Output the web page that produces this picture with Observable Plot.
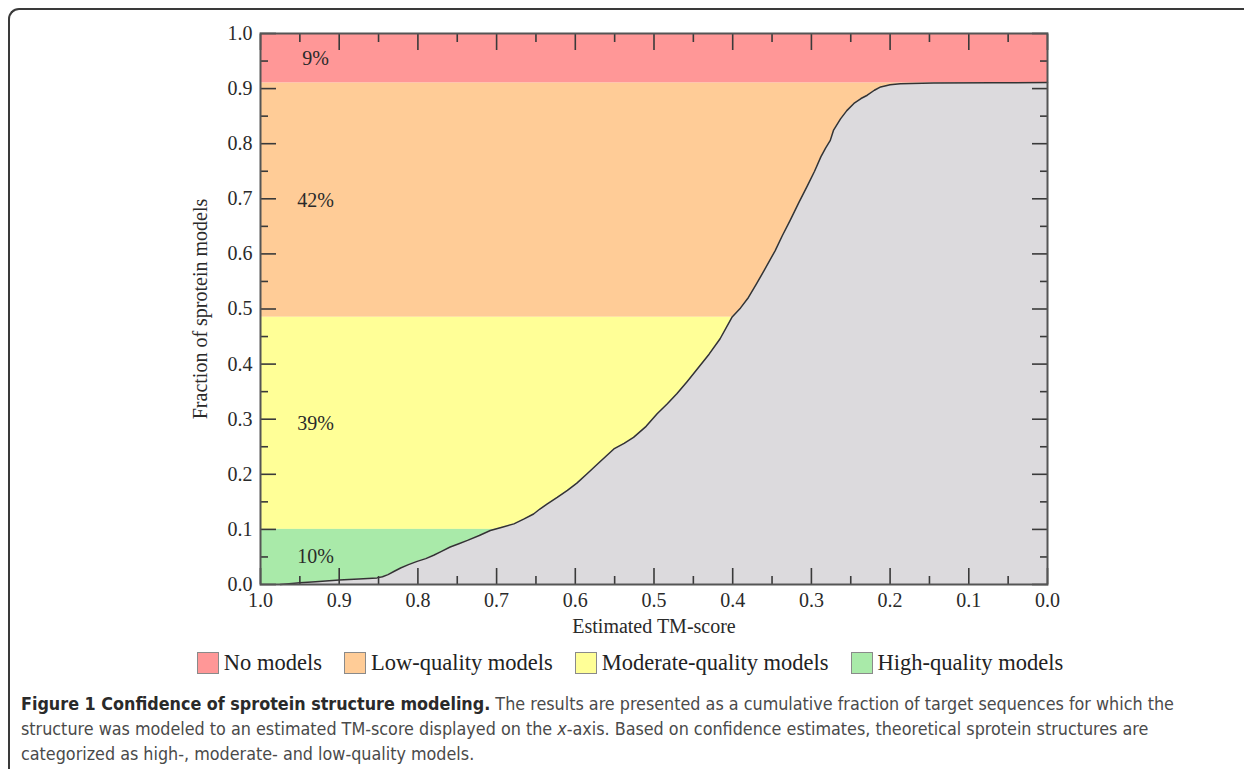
<!DOCTYPE html>
<html>
<head>
<meta charset="utf-8">
<script src="https://cdn.jsdelivr.net/npm/d3@7"></script>
<script src="https://cdn.jsdelivr.net/npm/@observablehq/plot@0.6"></script>
<style>
  html, body { margin: 0; padding: 0; background: #fff; overflow: hidden; }
  #frame { position: absolute; left: 8px; top: 8px; width: 1300px; height: 900px;
           border-top: 2px solid #3a3a3a; border-left: 2px solid #3a3a3a; border-top-left-radius: 11px; }
  #wrap { position: relative; width: 1244px; }
  #chart svg { display: block; }
  #legend { display: flex; justify-content: center; align-items: center; height: 36px;
            margin-left: 16px; font-family: "Liberation Serif", serif; font-size: 22.5px; color: #222; }
  .item { display: flex; align-items: center; margin: 0 11px; }
  .sw { width: 20px; height: 20px; border: 1.5px solid #8a8a8a; margin-right: 5px; }
  #caption { margin: 10px 0 0 21px; font-family: "DejaVu Sans Condensed", sans-serif;
             font-size: 17.8px; line-height: 25px; color: #4a4a4a; }
  #caption b { color: #2a2a2a; }
</style>
</head>
<body>
<div id="frame"></div>
<div id="wrap">
  <div id="chart"></div>
  <div id="legend"></div>
  <div id="caption"><b>Figure 1 Confidence of sprotein structure modeling.</b> The results are presented as a cumulative fraction of target sequences for which the<br>structure was modeled to an estimated TM-score displayed on the <i>x</i>-axis. Based on confidence estimates, theoretical sprotein structures are<br>categorized as high-, moderate- and low-quality models.</div>
</div>
<script>
// ---- data ----
const bandNames  = ["No models", "Low-quality models", "Moderate-quality models", "High-quality models"];
const bandLow    = [0.91, 0.485, 0.10, 0.00];
const bandHigh   = [1.00, 0.91, 0.485, 0.10];
const bandPct    = ["9%", "42%", "39%", "10%"];
const bandColors = ["#ff9797", "#ffcc97", "#ffff97", "#a9eaa9"];

const tmScore = [0.975, 0.96, 0.95, 0.93, 0.90, 0.875, 0.852, 0.845, 0.838, 0.830, 0.822, 0.812, 0.801, 0.790,
  0.780, 0.770, 0.759, 0.748, 0.737, 0.722, 0.708, 0.693, 0.678, 0.665, 0.653, 0.645, 0.636, 0.623, 0.610,
  0.598, 0.585, 0.570, 0.551, 0.538, 0.526, 0.510, 0.496, 0.483, 0.471, 0.458, 0.445, 0.430, 0.416, 0.401,
  0.390, 0.380, 0.370, 0.360, 0.346, 0.337, 0.327, 0.316, 0.305, 0.296, 0.288, 0.282, 0.276, 0.272, 0.263,
  0.255, 0.246, 0.237, 0.229, 0.220, 0.212, 0.200, 0.187, 0.145, 0.070, 0.0];
const fraction = [0.000, 0.002, 0.003, 0.005, 0.008, 0.010, 0.012, 0.014, 0.018, 0.024, 0.030, 0.036, 0.042, 0.047,
  0.053, 0.060, 0.068, 0.074, 0.080, 0.089, 0.098, 0.104, 0.110, 0.119, 0.128, 0.137, 0.146, 0.158, 0.171,
  0.184, 0.201, 0.221, 0.246, 0.256, 0.267, 0.287, 0.310, 0.328, 0.346, 0.368, 0.391, 0.418, 0.446, 0.485,
  0.502, 0.521, 0.545, 0.570, 0.606, 0.633, 0.661, 0.693, 0.724, 0.750, 0.776, 0.792, 0.806, 0.824, 0.845,
  0.860, 0.873, 0.882, 0.888, 0.897, 0.903, 0.907, 0.909, 0.910, 0.9105, 0.911];

const majorTicks = [0, 0.1, 0.2, 0.3, 0.4, 0.5, 0.6, 0.7, 0.8, 0.9, 1.0];
const minorTicks = [0.05, 0.15, 0.25, 0.35, 0.45, 0.55, 0.65, 0.75, 0.85, 0.95];
const xLabel = "Estimated TM-score";
const yLabel = "Fraction of sprotein models";

// ---- build ----
const bands = bandNames.map((n, i) => ({name: n, y1: bandLow[i], y2: bandHigh[i], fill: bandColors[i],
  pct: bandPct[i], mid: (bandLow[i] + bandHigh[i]) / 2}));
const curve = tmScore.map((x, i) => ({x, y: fraction[i]}));

const tickColor = "#3a3a3a";
const tickOnly = {tickFormat: () => "", label: null, stroke: tickColor, strokeWidth: 1.6};

const chart = Plot.plot({
  width: 1244,
  height: 645,
  marginLeft: 260,
  marginRight: 197,
  marginTop: 33,
  marginBottom: 61,
  style: {fontFamily: "'Liberation Serif', serif", fontSize: "20px", color: "#2a2a2a", background: "transparent"},
  x: {domain: [0, 1], reverse: true, label: null},
  y: {domain: [0, 1], label: null},
  marks: [
    Plot.rect(bands, {x1: 1, x2: 0, y1: "y1", y2: "y2", fill: "fill"}),
    Plot.areaY(curve, {x: "x", y: "y", fill: "#dcdadd"}),
    Plot.lineY(curve, {x: "x", y: "y", stroke: "#333", strokeWidth: 1.5}),
    Plot.text(bands, {x: 0.93, y: "mid", text: "pct", fontSize: 20, fill: "#2a2a2a"}),
    // inward ticks on all four sides
    Plot.axisX({...tickOnly, anchor: "bottom", ticks: majorTicks, tickSize: -16}),
    Plot.axisX({...tickOnly, anchor: "bottom", ticks: minorTicks, tickSize: -8}),
    Plot.axisX({...tickOnly, anchor: "top", ticks: majorTicks, tickSize: -16}),
    Plot.axisX({...tickOnly, anchor: "top", ticks: minorTicks, tickSize: -8}),
    Plot.axisY({...tickOnly, anchor: "left", ticks: majorTicks, tickSize: -16}),
    Plot.axisY({...tickOnly, anchor: "left", ticks: minorTicks, tickSize: -8}),
    Plot.axisY({...tickOnly, anchor: "right", ticks: majorTicks, tickSize: -16}),
    Plot.axisY({...tickOnly, anchor: "right", ticks: minorTicks, tickSize: -8}),
    // tick labels
    Plot.axisX({anchor: "bottom", ticks: majorTicks, tickSize: 0, tickPadding: 8, tickFormat: ".1f", fontSize: 20, fill: "#2a2a2a", label: null}),
    Plot.axisY({anchor: "left", ticks: majorTicks, tickSize: 0, tickPadding: 8, tickFormat: ".1f", fontSize: 20, fill: "#2a2a2a", label: null}),
    Plot.frame({stroke: "#555", strokeWidth: 2}),
    Plot.text([xLabel], {frameAnchor: "bottom", dy: 48, fontSize: 20, fill: "#2a2a2a"}),
    Plot.text([yLabel], {frameAnchor: "left", textAnchor: "middle", dx: -60, rotate: -90, fontSize: 20, fill: "#2a2a2a"})
  ]
});
document.getElementById("chart").appendChild(chart);

const legend = document.getElementById("legend");
bands.forEach(b => {
  const it = document.createElement("div");
  it.className = "item";
  const sw = document.createElement("div");
  sw.className = "sw";
  sw.style.background = b.fill;
  const t = document.createElement("span");
  t.textContent = b.name;
  it.appendChild(sw); it.appendChild(t);
  legend.appendChild(it);
});
</script>
</body>
</html>
